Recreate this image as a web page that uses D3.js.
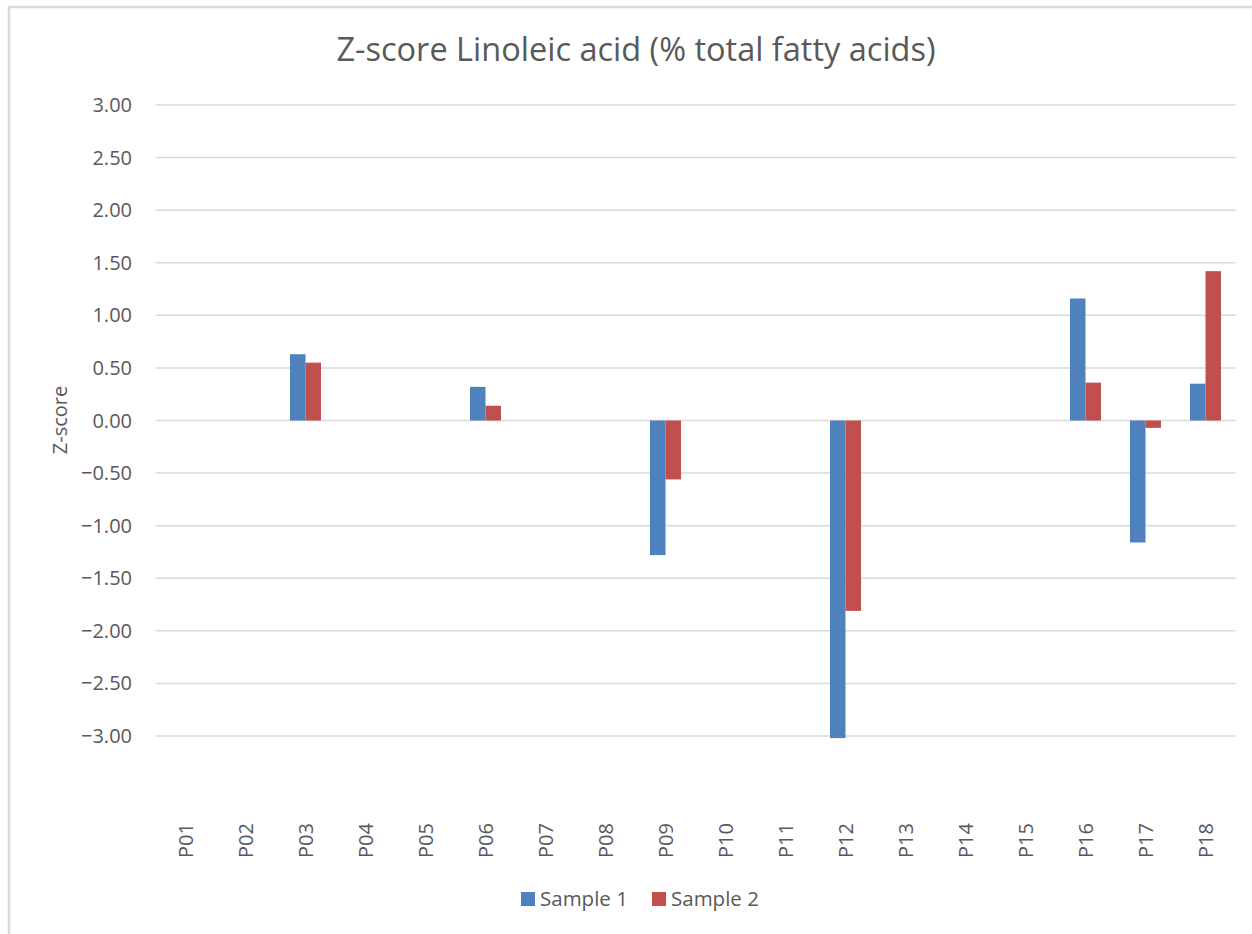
<!DOCTYPE html>
<html>
<head>
<meta charset="utf-8">
<script src="https://cdn.jsdelivr.net/npm/d3@7"></script>
<style>
  body { margin: 0; background: #fff; }
  text { font-family: "Open Sans", sans-serif; fill: #595959; }
</style>
</head>
<body>
<script>
let width = 1252;
let height = 934;

// data
let categories = ['P01', 'P02', 'P03', 'P04', 'P05', 'P06', 'P07', 'P08', 'P09',
  'P10', 'P11', 'P12', 'P13', 'P14', 'P15', 'P16', 'P17', 'P18'];
let sample1 = [null, null, 0.63, null, null, 0.32, null, null, -1.28,
  null, null, -3.02, null, null, null, 1.16, -1.16, 0.35];
let sample2 = [null, null, 0.55, null, null, 0.14, null, null, -0.56,
  null, null, -1.81, null, null, null, 0.36, -0.07, 1.42];
let seriesNames = ['Sample 1', 'Sample 2'];
let seriesColors = ['#4F81BD', '#C0504D'];
let yTicks = [3, 2.5, 2, 1.5, 1, 0.5, 0, -0.5, -1, -1.5, -2, -2.5, -3];

let svg = d3.select('body').append('svg')
  .attr('width', width)
  .attr('height', height);

svg.append('rect').attr('width', width).attr('height', height).attr('fill', '#fff');

// chart frame, cut off at the right and bottom
svg.append('rect')
  .attr('x', 9).attr('y', 7)
  .attr('width', 1400).attr('height', 1100)
  .attr('fill', 'none')
  .attr('stroke', '#d9d9d9')
  .attr('stroke-width', 2.5);

let x = d3.scaleBand().domain(categories).range([155.5, 1235.5]);
let y = d3.scaleLinear().domain([-3, 3]).range([736, 105]);
let xInner = d3.scaleBand().domain(seriesNames).range([0, 31]);

// gridlines
svg.append('g').selectAll('line').data(yTicks).enter().append('line')
  .attr('x1', 155.5).attr('x2', 1235.5)
  .attr('y1', d => y(d)).attr('y2', d => y(d))
  .attr('stroke', '#d9d9d9')
  .attr('stroke-width', 1.5);

// y tick labels
svg.append('g').selectAll('text').data(yTicks).enter().append('text')
  .attr('x', 132)
  .attr('y', d => y(d))
  .attr('dy', '0.35em')
  .attr('text-anchor', 'end')
  .style('font-size', '20px')
  .text(d => d3.format('.2f')(d));

// bars
let rows = categories.map((c, i) => ({cat: c, values: [sample1[i], sample2[i]]}));
let groups = svg.append('g').selectAll('g').data(rows).enter().append('g')
  .attr('transform', d => `translate(${x(d.cat) + x.bandwidth() / 2 - 15.5},0)`);
groups.selectAll('rect')
  .data(d => d.values.map((v, j) => ({name: seriesNames[j], value: v, color: seriesColors[j]})).filter(e => e.value !== null))
  .enter().append('rect')
  .attr('x', d => xInner(d.name))
  .attr('width', xInner.bandwidth())
  .attr('y', d => y(Math.max(0, d.value)))
  .attr('height', d => Math.abs(y(d.value) - y(0)))
  .attr('fill', d => d.color);

// category labels (rotated)
svg.append('g').selectAll('text').data(categories).enter().append('text')
  .attr('transform', d => `translate(${x(d) + x.bandwidth() / 2},823) rotate(-90)`)
  .attr('dy', '0.35em')
  .attr('text-anchor', 'end')
  .style('font-size', '20px')
  .text(d => d);

// axis title
svg.append('text')
  .attr('transform', 'translate(60,420) rotate(-90)')
  .attr('dy', '0.35em')
  .attr('text-anchor', 'middle')
  .style('font-size', '20px')
  .text('Z-score');

// chart title
svg.append('text')
  .attr('x', 636).attr('y', 50)
  .attr('dy', '0.35em')
  .attr('text-anchor', 'middle')
  .style('font-size', '32.5px')
  .text('Z-score Linoleic acid (% total fatty acids)');

// legend
let legend = svg.append('g').selectAll('g').data(seriesNames).enter().append('g')
  .attr('transform', (d, i) => `translate(${521 + i * 131},899)`);
legend.append('rect')
  .attr('x', 0).attr('y', -7)
  .attr('width', 14).attr('height', 14)
  .attr('fill', (d, i) => seriesColors[i]);
legend.append('text')
  .attr('x', 19)
  .attr('dy', '0.35em')
  .style('font-size', '20.5px')
  .text(d => d);
</script>
</body>
</html>
